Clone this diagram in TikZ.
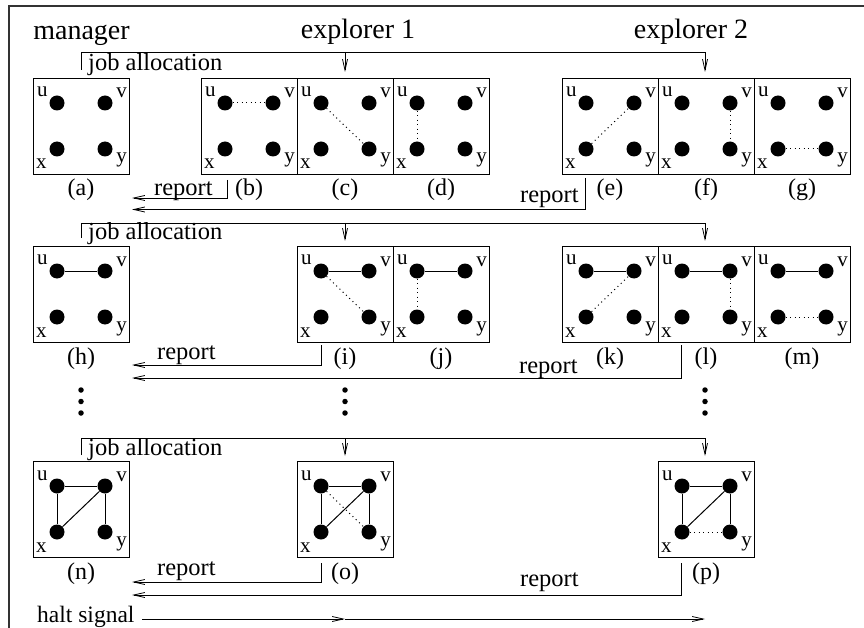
\documentclass[tikz,border=0pt]{standalone}
\usepackage{fontspec}
\setmainfont{Liberation Serif}
\usetikzlibrary{arrows.meta}
\tikzset{
  pbox/.style={draw, line width=0.9pt, minimum size=96pt, inner sep=0pt},
  vtx/.style={circle, fill=black, minimum size=15pt, inner sep=0pt},
  vlab/.style={inner sep=0pt, font=\fontsize{21}{24}\selectfont},
  pcaption/.style={inner sep=0pt, anchor=base, font=\fontsize{24}{28}\selectfont},
  hdr/.style={inner sep=0pt, anchor=base, font=\fontsize{28}{32}\selectfont},
  lbl/.style={inner sep=0pt, anchor=base west, font=\fontsize{24.5}{28}\selectfont},
  sedge/.style={line width=1pt},
  dedge/.style={line width=1pt, dash pattern=on 1pt off 3.5pt},
  conn/.style={line width=0.9pt},
  arrtip/.style={-{Straight Barb[length=11pt,width=5pt,line width=0.8pt]}},
  outerframe/.style={line width=1.3pt, black!80},
  vdot/.style={circle, fill=black, minimum size=5.5pt, inner sep=0pt}
}
\newcommand\gpanel[3]{%
  \node[pbox] (#1) at ({#2+48},{#3+48}) {};
  \node[vtx] (#1u) at ({#2+24},{#3+25}) {};
  \node[vtx] (#1v) at ({#2+72},{#3+25}) {};
  \node[vtx] (#1x) at ({#2+24},{#3+71}) {};
  \node[vtx] (#1y) at ({#2+72},{#3+71}) {};
  \node[vlab,anchor=base west] (#1lu) at ({#2+4},{#3+19}) {u};
  \node[vlab,anchor=base east] (#1lv) at ({#2+94},{#3+20}) {v};
  \node[vlab,anchor=base west] (#1lx) at ({#2+3},{#3+91}) {x};
  \node[vlab,anchor=base east] (#1ly) at ({#2+94},{#3+85}) {y};
  \node[pcaption] (#1cap) at ({#2+48},{#3+118}) {(#1)};
}
\begin{document}
\begin{tikzpicture}[x=1pt,y=-1pt]
\useasboundingbox (0,0) rectangle (864,628);
% frame
\coordinate (fTL) at (9,6);
\coordinate (fTR) at (864,6);
\coordinate (fBL) at (9,628);
\draw[outerframe] (fTR) -- (fTL) -- (fBL);
% headers
\node[hdr] (mgr) at (81.5,40) {manager};
\node[hdr] (ex1) at (358,39) {explorer 1};
\node[hdr] (ex2) at (691,39) {explorer 2};

% ---------- row 1 ----------
\gpanel{a}{33}{78}
\gpanel{b}{201}{78}
\gpanel{c}{297}{78}
\gpanel{d}{393}{78}
\gpanel{e}{562}{78}
\gpanel{f}{658}{78}
\gpanel{g}{754}{78}
\draw[dedge] (bu) -- (bv);
\draw[dedge] (cu) -- (cy);
\draw[dedge] (du) -- (dx);
\draw[dedge] (ex) -- (ev);
\draw[dedge] (fv) -- (fy);
\draw[dedge] (gx) -- (gy);
% job allocation 1
\coordinate (j1s) at (81,70);
\coordinate (j1m) at (345,52);
\coordinate (j1a) at (345,72);
\coordinate (j1r) at (705,52);
\coordinate (j1b) at (705,72);
\draw[conn,arrtip] (j1s) |- (j1r) -- (j1b);
\draw[conn,arrtip] (j1m) -- (j1a);
\node[lbl] (jal1) at (88,71) {job allocation};
% reports 1
\coordinate (r1as) at (227,180);
\coordinate (r1ae) at (132,198);
\draw[conn,arrtip] (r1as) |- (r1ae);
\node[lbl] (rl1a) at (154,196) {report};
\coordinate (r1bs) at (585,178);
\coordinate (r1be) at (132,209.5);
\draw[conn,arrtip] (r1bs) |- (r1be);
\node[lbl] (rl1b) at (520,203) {report};

% ---------- row 2 ----------
\gpanel{h}{33}{246}
\gpanel{i}{297}{246}
\gpanel{j}{393}{246}
\gpanel{k}{562}{246}
\gpanel{l}{658}{246}
\gpanel{m}{754}{246}
\foreach \p in {h,i,j,k,l,m} {\draw[sedge] (\p u) -- (\p v);}
\draw[dedge] (iu) -- (iy);
\draw[dedge] (ju) -- (jx);
\draw[dedge] (kx) -- (kv);
\draw[dedge] (lv) -- (ly);
\draw[dedge] (mx) -- (my);
% job allocation 2
\coordinate (j2s) at (81,238);
\coordinate (j2m) at (345,223);
\coordinate (j2a) at (345,241);
\coordinate (j2r) at (705,223);
\coordinate (j2b) at (705,241);
\draw[conn,arrtip] (j2s) |- (j2r) -- (j2b);
\draw[conn,arrtip] (j2m) -- (j2a);
\node[lbl] (jal2) at (88,240) {job allocation};
% reports 2
\coordinate (r2as) at (321.5,345);
\coordinate (r2ae) at (132,365);
\draw[conn,arrtip] (r2as) |- (r2ae);
\node[lbl] (rl2a) at (157,359) {report};
\coordinate (r2bs) at (681.5,345);
\coordinate (r2be) at (132,378);
\draw[conn,arrtip] (r2bs) |- (r2be);
\node[lbl] (rl2b) at (519,373) {report};

% vertical ellipses
\foreach \xx/\nm in {81/m,345/e,705/f} {
  \node[vdot] (d1\nm) at (\xx,390) {};
  \node[vdot] (d2\nm) at (\xx,401.5) {};
  \node[vdot] (d3\nm) at (\xx,413) {};
}

% ---------- row 3 ----------
\gpanel{n}{33}{461}
\gpanel{o}{297}{461}
\gpanel{p}{658}{461}
\foreach \p in {n,o,p} {
  \draw[sedge] (\p u) -- (\p v);
  \draw[sedge] (\p u) -- (\p x);
  \draw[sedge] (\p x) -- (\p v);
  \draw[sedge] (\p v) -- (\p y);
}
\draw[dedge] (ou) -- (oy);
\draw[dedge] (px) -- (py);
% job allocation 3
\coordinate (j3s) at (81,455);
\coordinate (j3m) at (345,438);
\coordinate (j3a) at (345,456);
\coordinate (j3r) at (705,438);
\coordinate (j3b) at (705,456);
\draw[conn,arrtip] (j3s) |- (j3r) -- (j3b);
\draw[conn,arrtip] (j3m) -- (j3a);
\node[lbl] (jal3) at (88,455) {job allocation};
% reports 3
\coordinate (r3as) at (321.5,563);
\coordinate (r3ae) at (132,582);
\draw[conn,arrtip] (r3as) |- (r3ae);
\node[lbl] (rl3a) at (157,575) {report};
\coordinate (r3bs) at (681.5,563);
\coordinate (r3be) at (132,595);
\draw[conn,arrtip] (r3bs) |- (r3be);
\node[lbl] (rl3b) at (520,586) {report};

% halt signal
\node[lbl, font=\fontsize{23.5}{28}\selectfont] (halt) at (37,622) {halt signal};
\coordinate (h0) at (142,619);
\coordinate (h1) at (345,619);
\coordinate (h2) at (705,619);
\draw[conn,arrtip] (h0) -- (h1);
\draw[conn,arrtip] (h1) -- (h2);
\end{tikzpicture}
\end{document}
